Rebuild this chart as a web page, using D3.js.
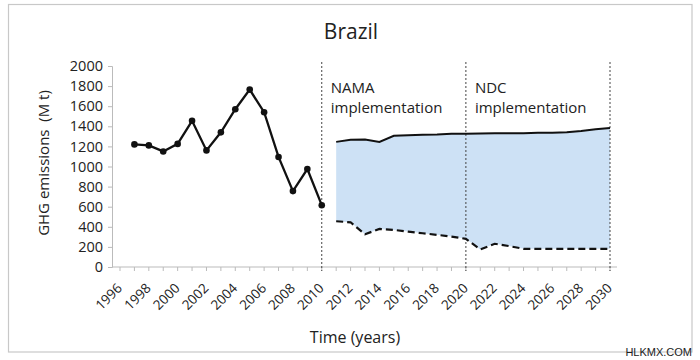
<!DOCTYPE html>
<html><head><meta charset="utf-8">
<script src="https://cdn.jsdelivr.net/npm/d3@7"></script>
<style>body{margin:0;background:#fff}svg{display:block}text{font-family:"Open Sans",sans-serif;fill:#222}</style>
</head><body><svg id="c" width="700" height="360"></svg>
<script>
const histYears = [1997,1998,1999,2000,2001,2002,2003,2004,2005,2006,2007,2008,2009,2010];
const histValues = [1220,1210,1150,1225,1455,1160,1340,1570,1765,1540,1095,755,975,615];
const projYears = [2011,2012,2013,2014,2015,2016,2017,2018,2019,2020,2021,2022,2023,2024,2025,2026,2027,2028,2029,2030];
const projUpper = [1245,1265,1268,1245,1305,1311,1315,1318,1325,1325,1328,1330,1332,1332,1335,1337,1341,1354,1371,1384];
const projLower = [455,445,326,379,369,352,336,320,303,280,175,231,208,181,181,181,181,181,181,181];
const tickYears = d3.range(1996, 2031, 2);
const yTicks = [0,200,400,600,800,1000,1200,1400,1600,1800,2000];
const phaseLines = [2010, 2020, 2030];
const phaseLabels = [{year:2010, lines:["NAMA","implementation"]},{year:2020, lines:["NDC","implementation"]}];

const svg = d3.select("#c");
svg.append("rect").attr("x",8.5).attr("y",4.5).attr("width",683.5).attr("height",347.5)
  .attr("fill","#fff").attr("stroke","#c8c8c8").attr("stroke-width",1.2);

const x = d3.scaleLinear().domain([1996,2030]).range([120,610]);
const y = d3.scaleLinear().domain([0,2000]).range([267,66]);

// fill area
const area = d3.area().x((d,i)=>x(projYears[i])).y0((d,i)=>y(projLower[i])).y1((d,i)=>y(projUpper[i]));
svg.append("path").datum(projYears).attr("d",area).attr("fill","#cde1f5");

// y axis
const yAxis = svg.append("g").attr("transform","translate(112,0)")
  .call(d3.axisLeft(y).tickValues(yTicks).tickFormat(d3.format("d")).tickSize(4).tickPadding(5));
yAxis.select(".domain").attr("stroke","#bbb");
yAxis.selectAll(".tick line").attr("stroke","#bbb");
yAxis.selectAll("text").style("font-size","14.5px").attr("fill","#222");

// x axis
const xg = svg.append("g").attr("transform","translate(0,267)");
xg.append("line").attr("x1",112).attr("x2",617).attr("stroke","#bbb");
xg.selectAll("line.t").data(d3.range(1996,2031)).join("line").attr("class","t")
  .attr("x1",d=>x(d)).attr("x2",d=>x(d)).attr("y1",0).attr("y2",4).attr("stroke","#bbb");
xg.selectAll("text.tl").data(tickYears).join("text").attr("class","tl")
  .attr("transform",d=>`translate(${x(d)+3},${22}) rotate(-45)`)
  .attr("text-anchor","end").style("font-size","13.5px").text(d=>d);

// phase lines
svg.selectAll("line.ph").data(phaseLines).join("line").attr("class","ph")
  .attr("x1",d=>x(d)).attr("x2",d=>x(d)).attr("y1",62).attr("y2",271)
  .attr("stroke","#444").attr("stroke-width",1).attr("stroke-dasharray","2,2");

// phase labels
phaseLabels.forEach(p=>{
  const t = svg.append("text").attr("x",x(p.year)+9).attr("y",93).style("font-size","15px");
  p.lines.forEach((l,i)=>t.append("tspan").attr("x",x(p.year)+9).attr("dy",i?20:0).text(l));
});

// projection lines
svg.append("path").datum(projYears).attr("fill","none").attr("stroke","#111").attr("stroke-width",2)
  .attr("d",d3.line().x((d,i)=>x(d)).y((d,i)=>y(projUpper[i])));
svg.append("path").datum(projYears).attr("fill","none").attr("stroke","#111").attr("stroke-width",2.2)
  .attr("stroke-dasharray","7,4")
  .attr("d",d3.line().x((d,i)=>x(d)).y((d,i)=>y(projLower[i])));

// historical
svg.append("path").datum(histYears).attr("fill","none").attr("stroke","#111").attr("stroke-width",2.3)
  .attr("d",d3.line().x(d=>x(d)).y((d,i)=>y(histValues[i])));
svg.selectAll("circle.h").data(histYears).join("circle").attr("class","h")
  .attr("cx",d=>x(d)).attr("cy",(d,i)=>y(histValues[i])).attr("r",3.3).attr("fill","#111");

// titles
svg.append("text").attr("x",351).attr("y",39).attr("text-anchor","middle").style("font-size","21px").text("Brazil");
svg.append("text").attr("transform","translate(49,163) rotate(-90)").attr("text-anchor","middle")
  .style("font-size","15px").style("white-space","pre").text("GHG emissions  (M t)");
svg.append("text").attr("x",355).attr("y",343).attr("text-anchor","middle").style("font-size","16px").text("Time (years)");
svg.append("text").attr("x",692).attr("y",356).attr("text-anchor","end")
  .style("font-family","'Liberation Sans',Arial,sans-serif").style("font-size","11px").attr("fill","#111").text("HLKMX.COM");
</script></body></html>
